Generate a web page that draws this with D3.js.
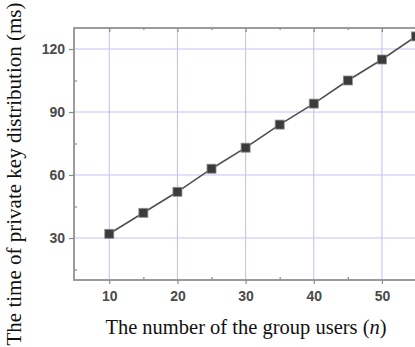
<!DOCTYPE html>
<html>
<head>
<meta charset="utf-8">
<script src="https://cdn.jsdelivr.net/npm/d3@7"></script>
<style>
  html, body { margin: 0; padding: 0; background: #fff; }
  svg { display: block; }
</style>
</head>
<body>
<svg id="chart" width="415" height="347"></svg>
<script>
// Group size n and the time spent distributing private keys (ms)
const groupUsers = [10, 15, 20, 25, 30, 35, 40, 45, 50, 55];
const keyDistTime = [32, 42, 52, 63, 73, 84, 94, 105, 115, 126];
const xTicks = [10, 20, 30, 40, 50];
const xMinorTicks = [15, 25, 35, 45];
const yTicks = [30, 60, 90, 120];
const yMinorTicks = [15, 45, 75, 105];

const svg = d3.select("#chart");
const plot = { left: 74, right: 416, top: 28, bottom: 280 };

const x = d3.scaleLinear().domain([5, 55]).range([plot.left + 1.2, plot.right]);
const y = d3.scaleLinear().domain([10, 130]).range([plot.bottom, plot.top]);

// grid
const grid = svg.append("g");
grid.selectAll("line.gx").data(xTicks).join("line")
  .attr("x1", d => x(d)).attr("x2", d => x(d))
  .attr("y1", plot.top).attr("y2", plot.bottom)
  .attr("stroke", "#c4c4f4").attr("stroke-width", 1.1);
grid.selectAll("line.gy").data(yTicks).join("line")
  .attr("x1", plot.left).attr("x2", plot.right)
  .attr("y1", d => y(d)).attr("y2", d => y(d))
  .attr("stroke", "#c4c4f4").attr("stroke-width", 1.1);

// frame
svg.append("rect")
  .attr("x", plot.left).attr("y", plot.top)
  .attr("width", plot.right - plot.left).attr("height", plot.bottom - plot.top)
  .attr("fill", "none").attr("stroke", "#929292").attr("stroke-width", 1.8);

// axes
const axisStyle = g => {
  g.select(".domain").remove();
  g.selectAll(".tick line").attr("stroke", "#8a8a8a").attr("stroke-width", 1.2);
  g.selectAll(".tick text")
    .attr("fill", "#4a4a4a")
    .attr("font-family", "Liberation Sans, Arial, sans-serif")
    .attr("font-weight", "bold")
    .attr("font-size", "14px");
};

svg.append("g").attr("transform", `translate(0,${plot.bottom})`)
  .call(d3.axisBottom(x).tickValues(xTicks).tickSize(4).tickPadding(7).tickFormat(d3.format("d")))
  .call(axisStyle);
svg.append("g").attr("transform", `translate(0,${plot.bottom})`)
  .call(d3.axisTop(x).tickValues(xMinorTicks).tickSize(3).tickFormat(""))
  .call(axisStyle);
svg.append("g").attr("transform", `translate(0,${plot.top})`)
  .call(d3.axisBottom(x).tickValues(xTicks).tickSize(4).tickFormat(""))
  .call(axisStyle);
svg.append("g").attr("transform", `translate(0,${plot.top})`)
  .call(d3.axisBottom(x).tickValues(xMinorTicks).tickSize(2).tickFormat(""))
  .call(axisStyle);

svg.append("g").attr("transform", `translate(${plot.left},0)`)
  .call(d3.axisLeft(y).tickValues(yTicks).tickSize(5).tickPadding(4).tickFormat(d3.format("d")))
  .call(axisStyle);
svg.append("g").attr("transform", `translate(${plot.left},0)`)
  .call(d3.axisRight(y).tickValues(yMinorTicks).tickSize(3).tickFormat(""))
  .call(axisStyle);

// series
const pts = groupUsers.map((n, i) => [n, keyDistTime[i]]);
svg.append("path")
  .datum(pts)
  .attr("fill", "none")
  .attr("stroke", "#505050")
  .attr("stroke-width", 1.6)
  .attr("d", d3.line().x(d => x(d[0])).y(d => y(d[1])));

const m = 9;
svg.selectAll("rect.marker").data(pts).join("rect")
  .attr("class", "marker")
  .attr("x", d => x(d[0]) - m / 2).attr("y", d => y(d[1]) - m / 2)
  .attr("width", m).attr("height", m)
  .attr("fill", "#3b3b3b").attr("stroke", "#8c8c8c").attr("stroke-width", 0.8);

// axis titles
svg.append("text")
  .attr("x", 246).attr("y", 334)
  .attr("text-anchor", "middle")
  .attr("font-family", "Liberation Serif, Times New Roman, serif")
  .attr("font-size", "20.5px")
  .attr("fill", "#111")
  .html('The number of the group users (<tspan font-style="italic">n</tspan>)');

svg.append("text")
  .attr("transform", "translate(21,174) rotate(-90)")
  .attr("text-anchor", "middle")
  .attr("font-family", "Liberation Serif, Times New Roman, serif")
  .attr("font-size", "21px")
  .attr("fill", "#111")
  .text("The time of private key distribution (ms)");
</script>
</body>
</html>
